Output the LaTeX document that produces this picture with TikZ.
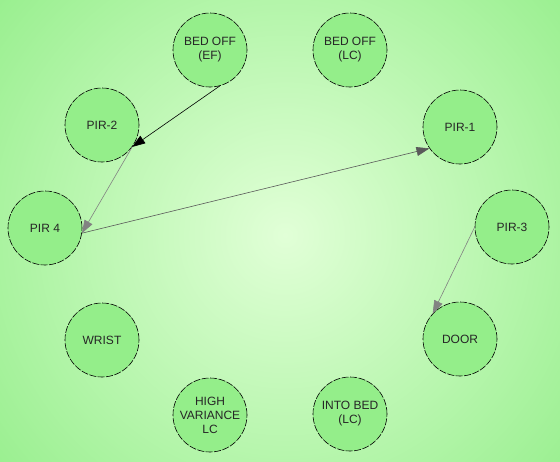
\documentclass[tikz,border=0pt]{standalone}
\usepackage{fontspec}
\setmainfont{Liberation Sans}
\usetikzlibrary{arrows.meta}
\definecolor{bgin}{RGB}{225,255,215}
\definecolor{bgout}{RGB}{148,238,138}
\definecolor{lnk}{RGB}{130,130,130}
\definecolor{lnkdark}{RGB}{90,90,90}

\tikzset{
  sensor/.style={circle,draw=black,line width=0.6pt,dash pattern=on 7pt off 1.5pt,
    fill=bgout,minimum size=74pt,inner sep=0pt,align=center,
    font=\fontsize{12}{14}\selectfont,text=black!85},
  flow/.style={-{Triangle[length=13pt,width=9pt]},line width=0.6pt}
}

\begin{document}
\begin{tikzpicture}[x=1pt,y=-1pt]
  \useasboundingbox (0,0) rectangle (560,461);
  \fill[bgout] (0,0) rectangle (560,461);
  \begin{scope}
    \clip (0,0) rectangle (560,461);
    \shade[inner color=bgin,outer color=bgout] (285,235) circle (400);
  \end{scope}

  % sensors round the ring
  \node[sensor] (bedef) at (210,50) {BED OFF\\(EF)};
  \node[sensor] (bedlc) at (350,50) {BED OFF\\(LC)};
  \node[sensor] (pir2)  at (102,125) {PIR-2};
  \node[sensor] (pir1)  at (460,127) {PIR-1};
  \node[sensor] (pir4)  at (45,228) {PIR 4};
  \node[sensor] (pir3)  at (512,227) {PIR-3};
  \node[sensor] (wrist) at (102,340) {WRIST};
  \node[sensor] (door)  at (460,339) {DOOR};
  \node[sensor] (hvlc)  at (210,415) {HIGH\\VARIANCE\\LC};
  \node[sensor] (inbed) at (350,414) {INTO BED\\(LC)};

  \draw[flow,black] (bedef.-75) -- (pir2.-36);
  \draw[flow,lnk] (pir2.-36) -- (pir4.-8);
  \draw[flow,lnkdark] (pir4.-8) -- (pir1.215);
  \draw[flow,lnk] (pir3.180) -- (door.137);
\end{tikzpicture}
\end{document}
